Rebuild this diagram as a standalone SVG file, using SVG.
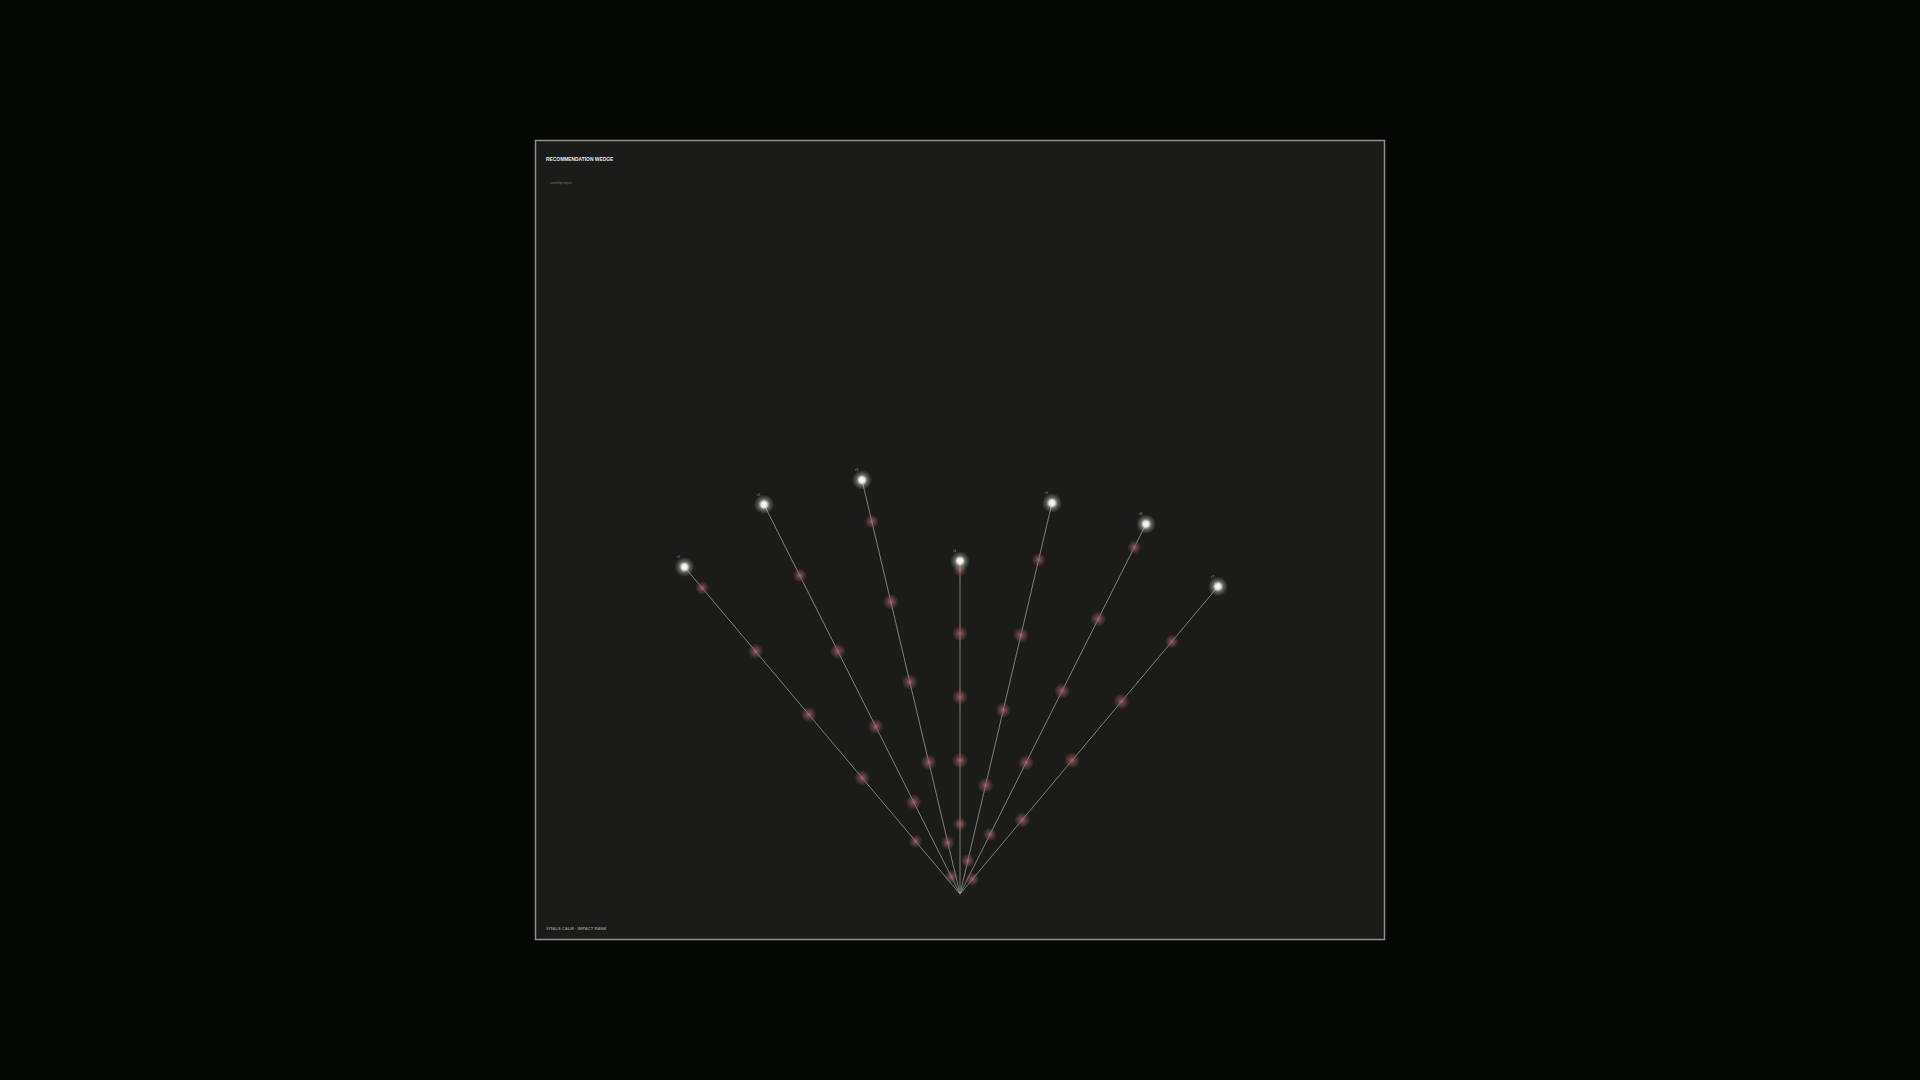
<svg xmlns="http://www.w3.org/2000/svg" width="1920" height="1080" viewBox="0 0 1920 1080">
<defs>
<radialGradient id="pg">
<stop offset="0" stop-color="#b06c76" stop-opacity="0.85"/>
<stop offset="0.4" stop-color="#94585f" stop-opacity="0.55"/>
<stop offset="1" stop-color="#94585f" stop-opacity="0"/>
</radialGradient>
<radialGradient id="wg">
<stop offset="0" stop-color="#ffffff" stop-opacity="1"/>
<stop offset="0.28" stop-color="#f2f2ee" stop-opacity="0.95"/>
<stop offset="0.55" stop-color="#c8c8c0" stop-opacity="0.4"/>
<stop offset="1" stop-color="#b0b0a8" stop-opacity="0"/>
</radialGradient>
<style>
.edge{stroke:#8e8e88;stroke-width:1;fill:none;opacity:0.85}
.p{fill:url(#pg)}
.w{fill:url(#wg)}
.lbl{font-family:"Liberation Sans",Arial,sans-serif;font-size:3.5px;fill:#9a9a94}
.title{font-family:"Liberation Sans",Arial,sans-serif;font-size:4.9px;font-weight:bold;fill:#e8e8e4}
.sub{font-family:"Liberation Sans",Arial,sans-serif;font-size:3px;fill:#77776f}
.foot{font-family:"Liberation Sans",Arial,sans-serif;font-size:4.2px;font-weight:bold;fill:#8a8a84}
</style>
</defs>
<rect width="1920" height="1080" fill="#060806"/>
<rect x="535.5" y="140.5" width="849" height="799" fill="#1b1c1a" stroke="#8f8f8a" stroke-width="1.5"/>
<text class="title" x="546" y="161">RECOMMENDATION WEDGE</text>
<text class="sub" x="550" y="184">sorted by impact</text>
<text class="foot" x="546" y="930">VITALS CALM · IMPACT RANK</text>
<g id="connectors">
<line class="edge" x1="960" y1="894" x2="684.5" y2="567"/>
<line class="edge" x1="960" y1="894" x2="764" y2="504.5"/>
<line class="edge" x1="960" y1="894" x2="862" y2="480"/>
<line class="edge" x1="960" y1="894" x2="960" y2="561"/>
<line class="edge" x1="960" y1="894" x2="1052" y2="503"/>
<line class="edge" x1="960" y1="894" x2="1146" y2="524"/>
<line class="edge" x1="960" y1="894" x2="1218" y2="586.5"/>
</g>
<g id="steps">
<circle class="p" cx="702.1" cy="587.9" r="7"/>
<circle class="p" cx="755.6" cy="651.4" r="8"/>
<circle class="p" cx="808.8" cy="714.5" r="8"/>
<circle class="p" cx="862.2" cy="777.9" r="8"/>
<circle class="p" cx="915.6" cy="841.4" r="7"/>
<circle class="p" cx="799.7" cy="575.4" r="7"/>
<circle class="p" cx="837.9" cy="651.3" r="8"/>
<circle class="p" cx="875.7" cy="726.5" r="8"/>
<circle class="p" cx="913.7" cy="802.1" r="8"/>
<circle class="p" cx="951.4" cy="876.9" r="7"/>
<circle class="p" cx="871.8" cy="521.4" r="7"/>
<circle class="p" cx="890.8" cy="601.7" r="8"/>
<circle class="p" cx="909.8" cy="682.0" r="8"/>
<circle class="p" cx="928.8" cy="762.3" r="8"/>
<circle class="p" cx="947.8" cy="842.7" r="7"/>
<circle class="p" cx="960" cy="570" r="7"/>
<circle class="p" cx="960" cy="633.5" r="8"/>
<circle class="p" cx="960" cy="697" r="8"/>
<circle class="p" cx="960" cy="760.5" r="8"/>
<circle class="p" cx="960" cy="824" r="7"/>
<circle class="p" cx="1038.7" cy="559.7" r="7"/>
<circle class="p" cx="1020.9" cy="635.2" r="8"/>
<circle class="p" cx="1003.2" cy="710.2" r="8"/>
<circle class="p" cx="985.6" cy="785.3" r="8"/>
<circle class="p" cx="967.8" cy="860.8" r="7"/>
<circle class="p" cx="1134.3" cy="547.3" r="7"/>
<circle class="p" cx="1098.2" cy="619.1" r="8"/>
<circle class="p" cx="1062.1" cy="690.9" r="8"/>
<circle class="p" cx="1026.0" cy="762.7" r="8"/>
<circle class="p" cx="989.9" cy="834.4" r="7"/>
<circle class="p" cx="1171.8" cy="641.5" r="7"/>
<circle class="p" cx="1121.5" cy="701.5" r="8"/>
<circle class="p" cx="1072" cy="760.5" r="8"/>
<circle class="p" cx="1022.2" cy="819.9" r="8"/>
<circle class="p" cx="972.4" cy="879.2" r="7"/>
</g>
<g id="rec1"><circle class="w" cx="684.5" cy="567" r="10"/><text class="lbl" x="677" y="558">r1</text></g>
<g id="rec2"><circle class="w" cx="764" cy="504.5" r="10"/><text class="lbl" x="757" y="496">r2</text></g>
<g id="rec3"><circle class="w" cx="862" cy="480" r="10"/><text class="lbl" x="855" y="471">r3</text></g>
<g id="rec4"><circle class="w" cx="960" cy="561" r="10"/><text class="lbl" x="953" y="552">r4</text></g>
<g id="rec5"><circle class="w" cx="1052" cy="503" r="10"/><text class="lbl" x="1045" y="494">r5</text></g>
<g id="rec6"><circle class="w" cx="1146" cy="524" r="10"/><text class="lbl" x="1139" y="515">r6</text></g>
<g id="rec7"><circle class="w" cx="1218" cy="586.5" r="10"/><text class="lbl" x="1211" y="578">r7</text></g>
</svg>
